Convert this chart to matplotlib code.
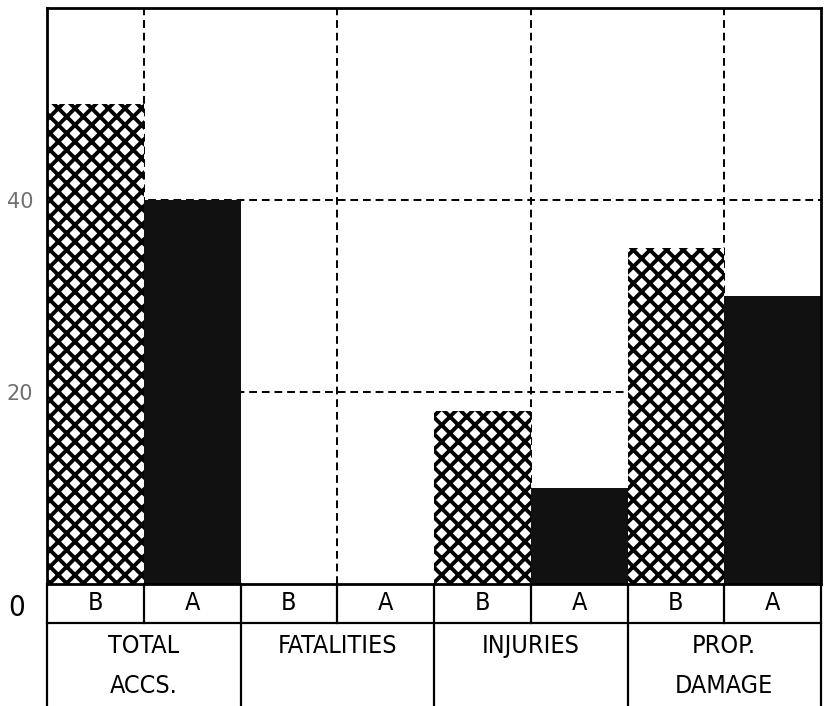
import matplotlib
matplotlib.use("Agg")
import matplotlib.pyplot as plt
import matplotlib.transforms as mtransforms

# data (B = before, A = after)
groups = ["TOTAL\nACCS.", "FATALITIES", "INJURIES", "PROP.\nDAMAGE"]
before = [50, 0, 18, 35]
after = [40, 0, 10, 30]
sub_labels = ["B", "A"]
yticks = [20, 40]

plt.rcParams["hatch.linewidth"] = 2.8
plt.rcParams["hatch.color"] = "black"
LABEL_FONT = ["DejaVu Sans"]

W, H = 824, 706
fig = plt.figure(figsize=(W / 100, H / 100), dpi=100)
ax = fig.add_axes([47 / W, (H - 584) / H, 774 / W, 576 / H])

n = len(groups)
xb = [2 * i for i in range(n)]
xa = [2 * i + 1 for i in range(n)]

# dashed grid under the bars
for y in yticks:
    ax.axhline(y, color="black", lw=1.4, ls=(0, (4, 2.5)), zorder=1)
for i in range(n):
    ax.axvline(2 * i + 0.5, color="black", lw=1.4, ls=(0, (4, 2.5)), zorder=1)

ax.bar(xb, before, width=1.0, facecolor="white", edgecolor="black",
       hatch="xx", linewidth=0, zorder=2)
ax.bar(xa, after, width=1.0, color="#111111", linewidth=0, zorder=2)

ax.set_xlim(-0.5, 2 * n - 0.5)
ax.set_ylim(0, 60)
ax.set_xticks([])
ax.set_yticks(yticks)
ax.set_yticklabels([str(v) for v in yticks], fontsize=15, color="#707070")
ax.tick_params(axis="y", length=0, pad=10)
for s in ax.spines.values():
    s.set_linewidth(2)
    s.set_color("black")

# table under the axis
tr = mtransforms.blended_transform_factory(ax.transData, ax.transAxes)
row1 = -39 / 576
row2 = -130 / 576
line_kw = dict(color="black", lw=1.6, transform=tr, clip_on=False)
ax.plot([-0.5, 2 * n - 0.5], [row1, row1], **line_kw)
for k in range(2 * n + 1):
    x = k - 0.5
    bottom = row2 if k % 2 == 0 else row1
    ax.plot([x, x], [0, bottom], **line_kw)

for i in range(n):
    for j, lab in enumerate(sub_labels):
        ax.text(2 * i + j, row1 / 2, lab, transform=tr, ha="center", va="center",
                fontsize=18, family=LABEL_FONT, stretch="condensed")
    ax.text(2 * i + 0.5, row1 - 11 / 576, groups[i], transform=tr, ha="center",
            va="top", fontsize=18, family=LABEL_FONT, stretch="condensed",
            linespacing=1.85)

# zero label sits left of the frame, in the first table row
ax.text(-0.5 - 30 / 96.75, row1 / 2 - 4 / 576, "0", transform=tr,
        ha="center", va="center", fontsize=21, family=LABEL_FONT,
        stretch="condensed")

fig.savefig("out.png", dpi=100, facecolor="white")
